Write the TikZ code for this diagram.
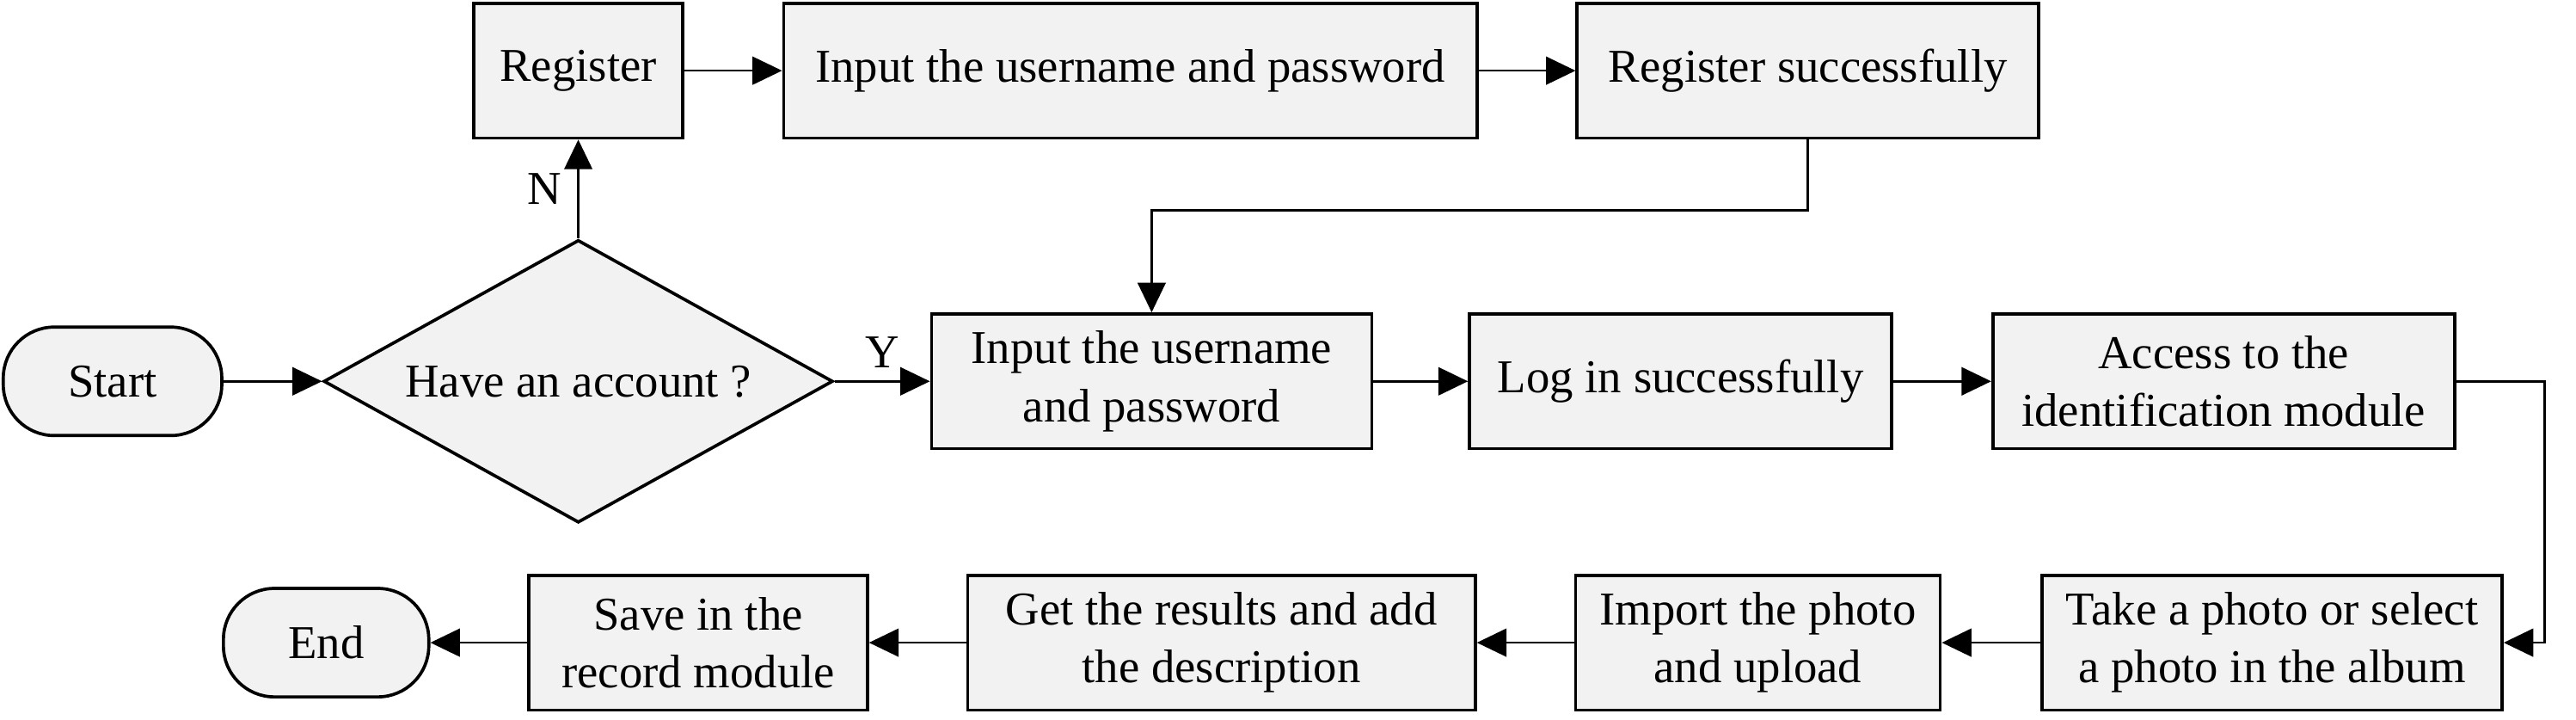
\documentclass[tikz,border=0pt]{standalone}
\usepackage{fontspec}
\setmainfont{Liberation Serif}
\usepackage{tikz}
\usetikzlibrary{shapes,arrows.meta}

\definecolor{boxfill}{HTML}{F2F2F2}

\begin{document}
\begin{tikzpicture}
    \tikzstyle{edge}  = [line width=0.8pt,draw=black]
    \tikzstyle{dedge} = [line width=0.8pt,-{Triangle[length=3.6mm,width=3.4mm]},draw=black]
    \tikzstyle{box}=[
      rectangle,
      draw=black,
      fill=boxfill,
      line width=1.1pt,
      align=center,
      anchor=center,
      minimum height=1.64cm,
      inner sep=0pt,
      font=\fontsize{16.3pt}{20pt}\selectfont,
    ]
    \tikzstyle{term}=[box,rounded corners=0.62cm,minimum height=1.32cm]
    \tikzstyle{choice}=[box,diamond,aspect=1.8,minimum width=6.2cm,minimum height=3.44cm]
    \tikzstyle{lbl}=[font=\fontsize{16.3pt}{20pt}\selectfont]

    \useasboundingbox (0,0) rectangle (31.36,-8.76);

    \node[term] (start) at (1.37,-4.64) [minimum width=2.66cm] {Start};
    \node[choice] (acc) at (7.04,-4.64) {Have an account ?};
    \node[box] (reg) at (7.04,-0.86) [minimum width=2.54cm] {Register};
    \node[box] (regin) at (13.76,-0.86) [minimum width=8.44cm] {Input the username and password};
    \node[box] (regok) at (22.01,-0.86) [minimum width=5.62cm] {Register successfully};
    \node[box] (login) at (14.02,-4.64) [minimum width=5.36cm] {Input the username\\and password};
    \node[box] (logok) at (20.46,-4.64) [minimum width=5.14cm] {Log in successfully};
    \node[box] (ident) at (27.07,-4.64) [minimum width=5.62cm] {Access to the\\identification module};
    \node[box] (photo) at (27.66,-7.82) [minimum width=5.6cm] {Take a photo or select\\a photo in the album};
    \node[box] (upload) at (21.4,-7.82) [minimum width=4.44cm] {Import the photo\\and upload};
    \node[box] (result) at (14.87,-7.82) [minimum width=6.18cm] {Get the results and add\\the description};
    \node[box] (save) at (8.5,-7.82) [minimum width=4.12cm] {Save in the\\record module};
    \node[term] (end) at (3.97,-7.82) [minimum width=2.5cm] {End};

    \coordinate (turn1) at (22.01,-2.56);
    \coordinate (turn2) at (14.02,-2.56);
    \coordinate (turn3) at (30.98,-4.64);
    \coordinate (turn4) at (30.98,-7.82);

    \draw[dedge] (start)--(acc);
    \draw[dedge] (acc.north)--(reg.south) node[lbl,midway,left=2pt] {N};
    \draw[dedge] (acc.east)--(login.west) node[lbl,midway,above=1pt] {Y};
    \draw[dedge] (reg)--(regin);
    \draw[dedge] (regin)--(regok);
    \draw[dedge] (regok.south)--(turn1)--(turn2)--(login.north);
    \draw[dedge] (login)--(logok);
    \draw[dedge] (logok)--(ident);
    \draw[dedge] (ident.east)--(turn3)--(turn4)--(photo.east);
    \draw[dedge] (photo)--(upload);
    \draw[dedge] (upload)--(result);
    \draw[dedge] (result)--(save);
    \draw[dedge] (save)--(end);
  \end{tikzpicture}
\end{document}
